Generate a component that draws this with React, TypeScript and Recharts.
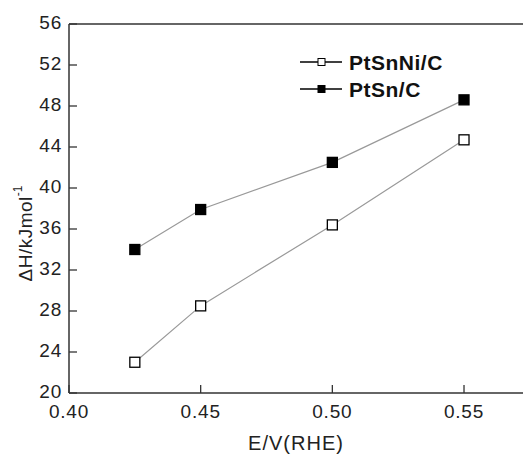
import { LineChart, Line, XAxis, YAxis, Legend, ReferenceLine } from 'recharts';

const potentials = [0.425, 0.45, 0.5, 0.55];
const ptSnNi = [23.0, 28.5, 36.4, 44.7];
const ptSn = [34.0, 37.9, 42.5, 48.6];

const xTicks = [0.4, 0.45, 0.5, 0.55];
const yTicks = [20, 24, 28, 32, 36, 40, 44, 48, 52, 56];

const data = potentials.map((e, i) => ({ e, ptSnNi: ptSnNi[i], ptSn: ptSn[i] }));

const FONT = '"Liberation Sans", Arial, sans-serif';
const AXIS = '#333';
const TEXT = '#222';

const SquareDot = (filled: boolean) => (props: any) => {
  const { cx, cy, index } = props;
  if (cx == null || cy == null) return null;
  const s = 10;
  return (
    <rect
      key={`dot-${index}`}
      x={cx - s / 2}
      y={cy - s / 2}
      width={s}
      height={s}
      fill={filled ? '#000' : '#fff'}
      stroke="#000"
      strokeWidth={1.3}
    />
  );
};

// ticks point inward, so the tick mark is drawn with the label
const YTick = (props: any) => {
  const { x, y, payload } = props;
  const ax = x + 7;
  return (
    <g>
      <line x1={ax} x2={ax + 8} y1={y} y2={y} stroke={AXIS} strokeWidth={1.3} />
      <text x={x} y={y} dy={5} textAnchor="end" fontFamily={FONT} fontSize={19} letterSpacing={0.8} fill={TEXT}>
        {payload.value}
      </text>
    </g>
  );
};

const XTick = (props: any) => {
  const { x, y, payload } = props;
  const ay = y - 2;
  return (
    <g>
      <line x1={x} x2={x} y1={ay} y2={ay - 8} stroke={AXIS} strokeWidth={1.3} />
      <text x={x} y={y} dy={23} textAnchor="middle" fontFamily={FONT} fontSize={19} letterSpacing={0.8} fill={TEXT}>
        {Number(payload.value).toFixed(2)}
      </text>
    </g>
  );
};

const YLabel = (props: any) => {
  const { viewBox } = props;
  const x = 25;
  const y = viewBox.y + viewBox.height / 2 + 25;
  return (
    <text
      x={x}
      y={y}
      transform={`rotate(-90, ${x}, ${y})`}
      textAnchor="middle"
      dominantBaseline="central"
      fontFamily={FONT}
      fontSize={19}
      letterSpacing={0.5}
      fill={TEXT}
    >
      ΔH/kJmol<tspan fontSize={12} dy={-7} letterSpacing={0}>-1</tspan>
    </text>
  );
};

const legendItems = [
  { name: 'PtSnNi/C', filled: false },
  { name: 'PtSn/C', filled: true },
];

const renderLegend = () => (
  <svg width={170} height={60}>
    {legendItems.map((it, i) => {
      const y = 10 + i * 27;
      return (
        <g key={it.name}>
          <line x1={0} x2={42} y1={y} y2={y} stroke="#000" strokeWidth={1.5} />
          <rect x={18} y={y - 3.5} width={7} height={7} fill={it.filled ? '#000' : '#fff'} stroke="#000" strokeWidth={1} />
          <text x={49} y={y} dy={7.5} fontFamily={FONT} fontSize={21} fontWeight="bold" letterSpacing={0.5} fill="#111">
            {it.name}
          </text>
        </g>
      );
    })}
  </svg>
);

export default function App() {
  return (
    <div style={{ position: 'absolute', left: 0, top: 0, background: '#fff' }}>
      <LineChart width={523} height={457} data={data} margin={{ top: 24, right: 0, bottom: 0, left: 0 }}>
        <XAxis
          dataKey="e"
          type="number"
          domain={[0.4, 0.5724]}
          ticks={xTicks}
          allowDataOverflow
          tickLine={false}
          tickSize={0}
          tickMargin={2}
          tick={<XTick />}
          stroke={AXIS}
          strokeWidth={1.5}
          height={64}
          label={{ value: 'E/V(RHE)', position: 'insideBottom', offset: 7, fontFamily: FONT, fontSize: 20, letterSpacing: 1, fill: TEXT }}
        />
        <YAxis
          type="number"
          domain={[20, 56]}
          ticks={yTicks}
          allowDataOverflow
          tickLine={false}
          tickSize={0}
          tickMargin={7}
          tick={<YTick />}
          stroke={AXIS}
          strokeWidth={1.5}
          width={69}
          label={<YLabel />}
        />
        <ReferenceLine y={56} stroke={AXIS} strokeWidth={1.5} />
        <Legend
          content={renderLegend}
          layout="horizontal"
          verticalAlign="middle"
          align="center"
          wrapperStyle={{ position: 'absolute', left: 300, top: 52, width: 170 }}
        />
        <Line
          name="PtSnNi/C"
          dataKey="ptSnNi"
          type="linear"
          stroke="#999"
          strokeWidth={1.2}
          dot={SquareDot(false)}
          activeDot={false}
          isAnimationActive={false}
        />
        <Line
          name="PtSn/C"
          dataKey="ptSn"
          type="linear"
          stroke="#999"
          strokeWidth={1.2}
          dot={SquareDot(true)}
          activeDot={false}
          isAnimationActive={false}
        />
      </LineChart>
    </div>
  );
}
